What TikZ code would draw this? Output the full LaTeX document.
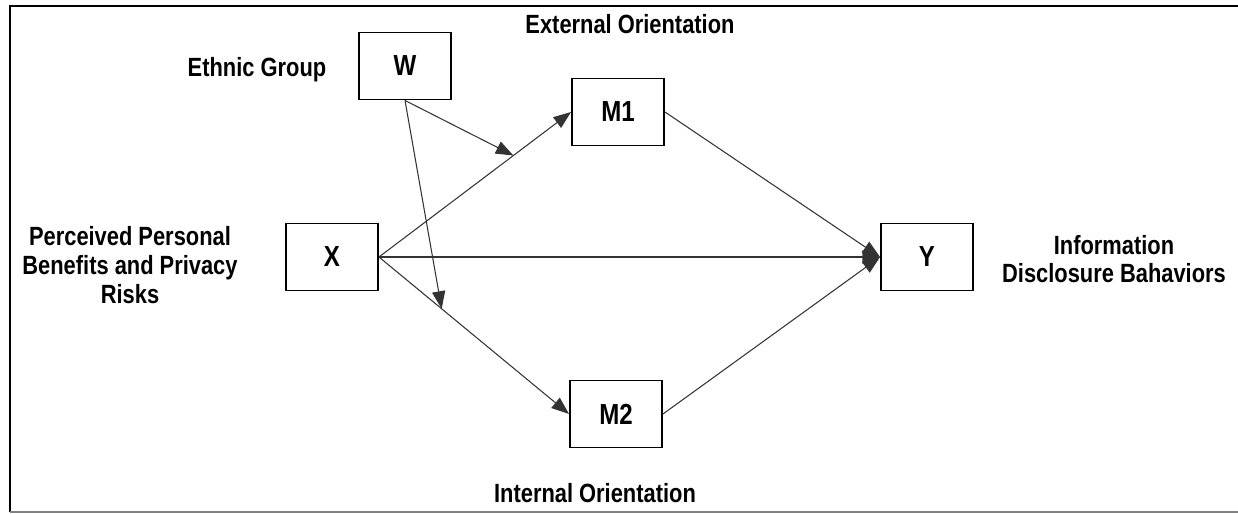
\documentclass[tikz,border=0pt]{standalone}
\usepackage{fontspec}
\setmainfont[FakeStretch=0.83]{Liberation Sans}
\usetikzlibrary{arrows.meta,calc,positioning}
\tikzset{
	path diagram/.style={
		x=0.02cm, y=-0.02cm,
		font=\bfseries\fontsize{15}{16.4}\selectfont,
		ar/.style={draw=black!80, line width=.6pt, -{Triangle[length=10pt,width=7.5pt]}},
		frame/.style={line width=1.7pt}
		},
	var/.style={draw, line width=1.1pt, minimum width=1.84cm, minimum height=1.34cm, inner sep=0pt,
		font=\bfseries\fontsize{16.5}{18}\selectfont},
	var name/.style={align=center, inner sep=0pt}
}

\begin{document}
\begin{tikzpicture}[path diagram]
   \useasboundingbox (0,0) rectangle (1238,514);
   \draw[frame] (10,512) -- (10,6) -- (1238,6);
   \draw[gray, line width=.9pt] (10,512) -- (1238,512);
   % variables
   \node[var] (w) at (405,66) {W};
   \node[var] (m1) at (618,112) {M1};
   \node[var] (x) at (332,257) {X};
   \node[var] (y) at (927,257) {Y};
   \node[var] (m2) at (616,414) {M2};
   % names
   \node[var name, anchor=base] (w_name) at (257,76) {Ethnic Group};
   \node[var name, anchor=base] (m1_name) at (630,33) {External Orientation};
   \node[var name] (x_name) at (130,265) {Perceived Personal\\Benefits and Privacy\\Risks};
   \node[var name] (y_name) at (1114,259) {Information\\Disclosure Bahaviors};
   \node[var name, anchor=base] (m2_name) at (595,502) {Internal Orientation};
   % paths
   \coordinate (a1) at ($(x.east)!.7!(m1.west)$);
   \coordinate (a2) at ($(x.east)!.33!(m2.west)$);
   \draw[ar] (x.east) -- (m1.west);
   \draw[ar] (x.east) -- (m2.west);
   \draw[ar] (x.east) -- (y.west);
   \draw[ar] (m1.east) -- (y.west);
   \draw[ar] (m2.east) -- (y.west);
   \draw[ar] (w.south) -- (a1);
   \draw[ar] (w.south) -- (a2);
\end{tikzpicture}
\end{document}
